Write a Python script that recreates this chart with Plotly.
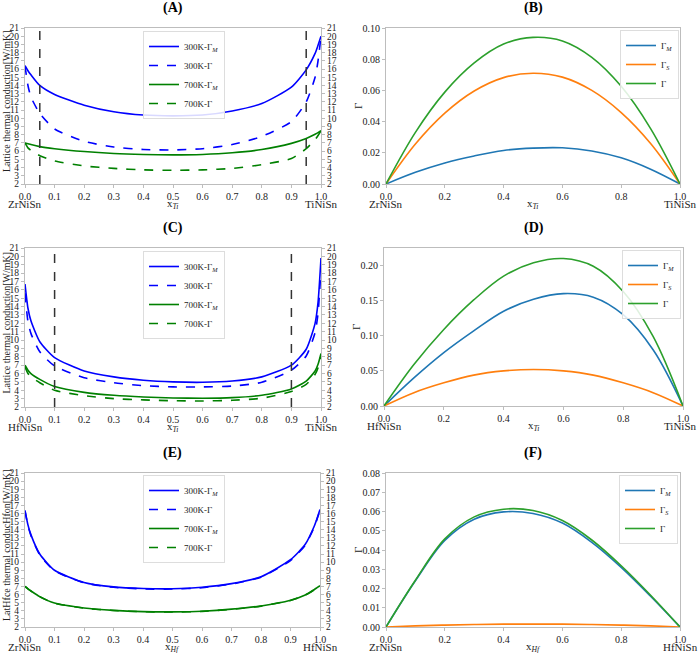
import plotly.graph_objects as go

# ---------------- data ----------------
x_left = [0, 0.01, 0.02, 0.05, 0.1, 0.2, 0.3, 0.4, 0.5, 0.6, 0.7, 0.8, 0.9, 0.95, 0.98, 0.99, 1.0]

a_300_M = [16.4, 15.8, 15.3, 14.0, 12.9, 11.6, 10.8, 10.4, 10.3, 10.4, 10.9, 11.8, 13.8, 15.9, 17.9, 18.9, 20.0]
a_300_G = [16.4, 14.0, 12.6, 10.6, 8.7, 7.2, 6.5, 6.2, 6.15, 6.3, 6.8, 7.8, 9.6, 12.0, 15.0, 17.0, 20.0]
a_700_M = [7.0, 6.9, 6.8, 6.55, 6.3, 5.95, 5.72, 5.6, 5.55, 5.6, 5.8, 6.2, 6.95, 7.55, 8.05, 8.25, 8.5]
a_700_G = [7.0, 6.4, 6.1, 5.45, 4.8, 4.2, 3.9, 3.72, 3.67, 3.72, 3.9, 4.35, 5.1, 6.3, 7.4, 7.9, 8.5]

c_300_M = [16.7, 13.8, 12.3, 9.8, 7.9, 6.3, 5.6, 5.2, 5.0, 4.95, 5.1, 5.6, 7.0, 8.9, 12.0, 14.5, 19.8]
c_300_G = [15.6, 12.2, 10.8, 8.6, 6.9, 5.5, 4.9, 4.55, 4.4, 4.4, 4.5, 4.95, 6.4, 8.1, 10.9, 13.2, 18.5]
c_700_M = [7.0, 6.4, 6.0, 5.3, 4.45, 3.75, 3.4, 3.2, 3.08, 3.05, 3.12, 3.4, 4.15, 5.1, 6.3, 7.1, 8.4]
c_700_G = [6.8, 6.0, 5.6, 4.9, 4.0, 3.35, 3.0, 2.85, 2.75, 2.72, 2.8, 3.05, 3.85, 4.7, 5.9, 6.7, 8.1]

e_300_M = [16.4, 14.6, 13.4, 11.0, 9.0, 7.5, 6.95, 6.75, 6.72, 6.9, 7.35, 8.2, 10.3, 12.2, 14.4, 15.4, 16.5]
e_300_G = [16.3, 14.5, 13.3, 10.9, 8.95, 7.45, 6.9, 6.7, 6.68, 6.85, 7.3, 8.15, 10.2, 12.1, 14.3, 15.3, 16.4]
e_700_M = [7.0, 6.7, 6.45, 5.75, 4.95, 4.35, 4.05, 3.9, 3.87, 3.95, 4.2, 4.6, 5.3, 5.95, 6.6, 6.85, 7.1]
e_700_G = [7.0, 6.7, 6.44, 5.74, 4.93, 4.33, 4.03, 3.88, 3.85, 3.93, 4.18, 4.58, 5.28, 5.93, 6.58, 6.83, 7.08]

x_right = [0, 0.1, 0.2, 0.3, 0.4, 0.5, 0.6, 0.7, 0.8, 0.9, 1.0]

b_GM = [0, 0.0075, 0.0135, 0.018, 0.0215, 0.0230, 0.0232, 0.0212, 0.0168, 0.0095, 0]
b_GS = [0, 0.0256, 0.0454, 0.0596, 0.0682, 0.0710, 0.0685, 0.0600, 0.0458, 0.0260, 0]
b_G = [0, 0.0331, 0.0589, 0.0776, 0.0897, 0.0940, 0.0917, 0.0812, 0.0626, 0.0355, 0]

d_GM = [0, 0.040, 0.076, 0.107, 0.135, 0.152, 0.160, 0.155, 0.130, 0.080, 0]
d_GS = [0, 0.019, 0.033, 0.044, 0.050, 0.052, 0.050, 0.044, 0.033, 0.019, 0]
d_G = [0, 0.059, 0.109, 0.151, 0.185, 0.204, 0.210, 0.199, 0.163, 0.099, 0]

f_GM = [0, 0.0240, 0.0450, 0.0560, 0.0598, 0.0590, 0.0540, 0.0440, 0.0310, 0.0160, 0]
f_GS = [0, 0.0006, 0.0010, 0.0013, 0.0015, 0.0015, 0.0015, 0.0013, 0.0010, 0.0006, 0]
f_G = [0, 0.0243, 0.0458, 0.0572, 0.0612, 0.0605, 0.0553, 0.0452, 0.0318, 0.0165, 0]

vlines_A = [0.05, 0.95]
vlines_C = [0.1, 0.9]

left_yticks = list(range(2, 22))
left_xticks = [0.0, 0.1, 0.2, 0.3, 0.4, 0.5, 0.6, 0.7, 0.8, 0.9, 1.0]
right_xticks = [0.0, 0.2, 0.4, 0.6, 0.8, 1.0]
b_yticks = [0.00, 0.02, 0.04, 0.06, 0.08, 0.10]
d_yticks = [0.00, 0.05, 0.10, 0.15, 0.20]
f_yticks = [0.00, 0.01, 0.02, 0.03, 0.04, 0.05, 0.06, 0.07, 0.08]

panel_titles = ["(A)", "(B)", "(C)", "(D)", "(E)", "(F)"]
end_labels = [("ZrNiSn", "TiNiSn"), ("ZrNiSn", "TiNiSn"),
              ("HfNiSn", "TiNiSn"), ("HfNiSn", "TiNiSn"),
              ("ZrNiSn", "HfNiSn"), ("ZrNiSn", "HfNiSn")]
xlabels = ["x<sub><i>Ti</i></sub>"] * 4 + ["x<sub><i>Hf</i></sub>"] * 2
left_ytitles = ["Lattice thermal conduction[W/mK]", "Lattice thermal conduction[W/mK]",
                "LatHfce thermal conducHfon[W/mK]"]
left_legend = ["300K-Γ<sub><i>M</i></sub>", "300K-Γ", "700K-Γ<sub><i>M</i></sub>", "700K-Γ"]
right_legend = ["Γ<sub><i>M</i></sub>", "Γ<sub><i>S</i></sub>", "Γ"]

# ---------------- layout geometry ----------------
W, H = 700, 653
FONT = "Liberation Serif, Times New Roman, serif"
SPINE = "#bdbdbd"
TXT = "#222222"


def fx(px):
    return px / W


def fy(py):
    return 1 - py / H


# (x0,x1,ytop,ybottom) in px
boxes = [(25, 321, 28, 184), (386, 680, 28, 184),
         (25, 321, 248, 407), (384, 683, 248, 406),
         (25, 320, 473, 627), (386, 680, 473, 627)]

fig = go.Figure()

left_data = [(a_300_M, a_300_G, a_700_M, a_700_G),
             (c_300_M, c_300_G, c_700_M, c_700_G),
             (e_300_M, e_300_G, e_700_M, e_700_G)]
right_data = [(b_GM, b_GS, b_G), (d_GM, d_GS, d_G), (f_GM, f_GS, f_G)]

left_styles = [("#0000ff", "solid"), ("#0000ff", "dash"), ("#008000", "solid"), ("#008000", "dash")]
right_colors = ["#1f77b4", "#ff7f0e", "#2ca02c"]

legend_pos = {
    1: (143, 31, "left"), 2: (679, 30, "right"),
    3: (143, 251, "left"), 4: (681, 250, "right"),
    5: (143, 475, "left"), 6: (678, 475, "right"),
}

layout = dict(
    template="none",
    width=W, height=H, margin=dict(l=0, r=0, t=0, b=0, pad=0, autoexpand=False),
    paper_bgcolor="white", plot_bgcolor="white",
    font=dict(family=FONT, size=10, color=TXT),
    shapes=[], annotations=[],
)

for i in range(6):
    n = i + 1
    xa = "x" if n == 1 else f"x{n}"
    ya = "y" if n == 1 else f"y{n}"
    leg = "legend" if n == 1 else f"legend{n}"
    x0, x1, yt, yb = boxes[i]
    is_left = (i % 2 == 0)
    if is_left:
        series = left_data[i // 2]
        for k, ys in enumerate(series):
            col, dash = left_styles[k]
            fig.add_trace(go.Scatter(x=x_left, y=ys, mode="lines", name=left_legend[k],
                                     line=dict(color=col, dash=dash, width=1.6, shape="spline", smoothing=0.6),
                                     xaxis=xa, yaxis=ya, legend=leg))
    else:
        series = right_data[i // 2]
        for k, ys in enumerate(series):
            fig.add_trace(go.Scatter(x=x_right, y=ys, mode="lines", name=right_legend[k],
                                     line=dict(color=right_colors[k], width=1.6, shape="spline", smoothing=1.0),
                                     xaxis=xa, yaxis=ya, legend=leg))

    xkey = "xaxis" if n == 1 else f"xaxis{n}"
    ykey = "yaxis" if n == 1 else f"yaxis{n}"
    layout[xkey] = dict(domain=[fx(x0), fx(x1)], anchor=ya, range=[0, 1], automargin=False,
                        tickvals=left_xticks if is_left else right_xticks,
                        tickformat=".1f", ticks="outside", ticklen=3, tickcolor=SPINE,
                        showline=True, linecolor=SPINE, linewidth=1, mirror=True,
                        showgrid=False, zeroline=False,
                        tickfont=dict(family=FONT, size=10, color=TXT))
    if is_left:
        yrange = [2, 21]
        yt_vals = left_yticks
        yfmt = "d"
    else:
        yrange = [[0, 0.10], [0, 0.225], [0, 0.08]][i // 2]
        yt_vals = [b_yticks, d_yticks, f_yticks][i // 2]
        yfmt = ".2f"
    layout[ykey] = dict(domain=[fy(yb), fy(yt)], anchor=xa, range=yrange, automargin=False,
                        tickvals=yt_vals, tickformat=yfmt,
                        ticks="outside", ticklen=3, tickcolor=SPINE,
                        showline=True, linecolor=SPINE, linewidth=1, mirror=True,
                        showgrid=False, zeroline=False,
                        tickfont=dict(family=FONT, size=9.5 if is_left else 10, color=TXT))

    # legend
    lx, ly, side = legend_pos[n]
    layout[leg] = dict(x=fx(lx), y=fy(ly), xanchor=side, yanchor="top",
                       bgcolor="rgba(255,255,255,0.85)", bordercolor="#dddddd", borderwidth=1,
                       font=dict(family=FONT, size=9, color=TXT),
                       tracegroupgap=0, itemwidth=30)

    # panel title
    layout["annotations"].append(dict(text=f"<b>{panel_titles[i]}</b>", xref="paper", yref="paper",
                                      x=fx((x0 + x1) / 2), y=fy(yt - 20), xanchor="center", yanchor="middle",
                                      showarrow=False, font=dict(family=FONT, size=14, color="black")))
    # end labels + x label
    lbl_y = fy(yb + 20)
    layout["annotations"].append(dict(text=end_labels[i][0], xref="paper", yref="paper",
                                      x=fx(max(x0, 20)), y=lbl_y, xanchor="center", yanchor="middle",
                                      showarrow=False, font=dict(family=FONT, size=11, color=TXT)))
    layout["annotations"].append(dict(text=end_labels[i][1], xref="paper", yref="paper",
                                      x=fx(min(x1, 680)), y=lbl_y, xanchor="center", yanchor="middle",
                                      showarrow=False, font=dict(family=FONT, size=11, color=TXT)))
    layout["annotations"].append(dict(text=xlabels[i], xref="paper", yref="paper",
                                      x=fx((x0 + x1) / 2), y=lbl_y, xanchor="center", yanchor="middle",
                                      showarrow=False, font=dict(family=FONT, size=11, color=TXT)))
    # y title
    if is_left:
        layout["annotations"].append(dict(text=left_ytitles[i // 2], xref="paper", yref="paper",
                                          x=fx(6), y=fy((yt + yb) / 2 - 5), xanchor="center", yanchor="middle",
                                          textangle=-90, showarrow=False,
                                          font=dict(family=FONT, size=10, color=TXT)))
    else:
        layout["annotations"].append(dict(text="Γ", xref="paper", yref="paper",
                                          x=fx(x0 - 28), y=fy((yt + yb) / 2), xanchor="center", yanchor="middle",
                                          textangle=-90, showarrow=False,
                                          font=dict(family=FONT, size=11, color=TXT)))

# right-side mirrored y axes for left panels
for j, n in enumerate([1, 3, 5]):
    xa = "x" if n == 1 else f"x{n}"
    ya_main = "y" if n == 1 else f"y{n}"
    m = 7 + j
    fig.add_trace(go.Scatter(x=x_left, y=left_data[j][0], mode="lines", line=dict(width=0),
                             showlegend=False, hoverinfo="skip", xaxis=xa, yaxis=f"y{m}"))
    layout[f"yaxis{m}"] = dict(overlaying=ya_main, side="right", anchor=xa, range=[2, 21], automargin=False,
                               tickvals=left_yticks, tickformat="d", ticks="outside", ticklen=3,
                               tickcolor=SPINE, showline=False, showgrid=False, zeroline=False,
                               tickfont=dict(family=FONT, size=9.5, color=TXT))

# vertical dashed reference lines
for vals, xa, ya in [(vlines_A, "x", "y"), (vlines_C, "x3", "y3")]:
    for v in vals:
        layout["shapes"].append(dict(type="line", xref=xa, yref=f"{ya} domain", x0=v, x1=v, y0=0, y1=1,
                                     line=dict(color="#333333", width=1.5, dash="dash")))

fig.update_layout(**layout)
fig.write_html("out.html", config={"displayModeBar": False},
               post_script="document.body.style.margin='0px';document.body.style.overflow='hidden';")
